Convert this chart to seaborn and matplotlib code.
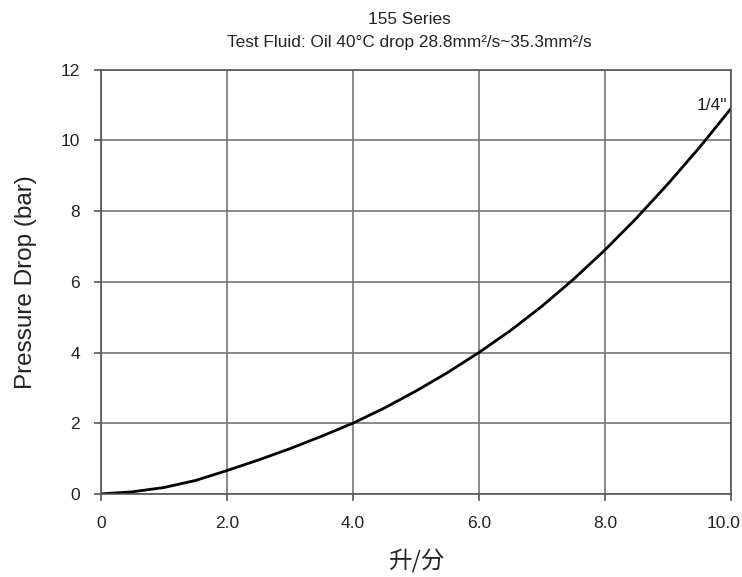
import matplotlib
matplotlib.use("Agg")
import matplotlib.pyplot as plt
import matplotlib.transforms as mtransforms
import numpy as np
import pandas as pd
import seaborn as sns

# flow (L/min) vs pressure drop (bar)
flow = [0, 0.5, 1.0, 1.5, 2.0, 2.5, 3.0, 3.5, 4.0, 4.5, 5.0, 5.5, 6.0, 6.5, 7.0, 7.5, 8.0, 8.5, 9.0, 9.5, 10.0]
drop = [0, 0.06, 0.18, 0.38, 0.66, 0.96, 1.28, 1.63, 2.0, 2.43, 2.91, 3.43, 4.0, 4.62, 5.31, 6.07, 6.9, 7.8, 8.77, 9.8, 10.9]
x_ticks = [0, 2, 4, 6, 8, 10]
x_labels = ["0", "2.0", "4.0", "6.0", "8.0", "10.0"]
y_ticks = [0, 2, 4, 6, 8, 10, 12]
curve_label = '1/4"'

df = pd.DataFrame({"flow": flow, "drop": drop})

sns.set_theme(style="white")
plt.rcParams["font.family"] = ["Liberation Sans", "Noto Sans CJK SC", "DejaVu Sans"]

fig = plt.figure(figsize=(7.42, 5.77), dpi=100)
ax = fig.add_axes([0.136, 0.144, 0.849, 0.735])

sns.lineplot(data=df, x="flow", y="drop", color="black", linewidth=2, ax=ax)

ax.set_xlim(0, 10)
ax.set_ylim(0, 12)
ax.set_xticks(x_ticks)
ax.set_xticklabels(x_labels)
ax.set_yticks(y_ticks)
ax.grid(True, color="#777777", linewidth=1.2)
for s in ax.spines.values():
    s.set_color("#555555")
    s.set_linewidth(1.2)
ax.tick_params(axis="both", direction="out", length=5, width=1.2, color="#555555",
               labelsize=12.5, labelcolor="#222222")
ax.tick_params(axis="x", bottom=True, pad=11)
ax.tick_params(axis="y", left=True, pad=10)

# last x label sits a little inside the figure edge, as in the original
last = ax.get_xticklabels()[-1]
last.set_transform(last.get_transform() + mtransforms.ScaledTranslation(-7 / 100, 0, fig.dpi_scale_trans))

ax.text(9.94, 11.0, curve_label, ha="right", va="center", fontsize=12.5, color="#222222")

ax.set_xlabel("升/分", fontsize=17, family=["Noto Sans CJK SC", "DejaVu Sans"], labelpad=13)
ax.set_ylabel("Pressure Drop (bar)", fontsize=17.5, labelpad=17, color="#222222")

fig.text(0.552, 0.966, "155 Series", ha="center", va="center", fontsize=12.4, color="#222222")
fig.text(0.552, 0.926, "Test Fluid: Oil 40°C drop 28.8mm²/s~35.3mm²/s", ha="center",
         va="center", fontsize=12.4, color="#222222")

fig.savefig("out.png", dpi=100)
